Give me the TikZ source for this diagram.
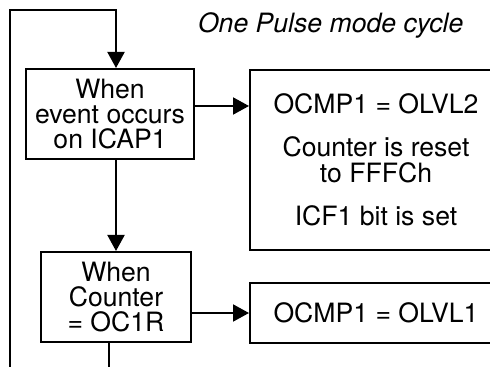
\documentclass[tikz,border=0pt]{standalone}
\usepackage{fontspec}
\setmainfont{TeX Gyre Heros}
\usetikzlibrary{arrows.meta}

\begin{document}
\begin{tikzpicture}[
  x=0.5pt, y=-0.5pt,
  every node/.style={font={\fontsize{13.3pt}{12.7pt}\selectfont}},
  box/.style={draw, line width=1pt, inner sep=0pt, align=center},
  >={Triangle[length=8pt, width=8.5pt]},
  line width=1pt
]
  \clip (0,0) rectangle (490,367);

  \node[anchor=base east, font={\fontsize{13.3pt}{12.7pt}\selectfont\itshape}] (title) at (471,33) {One Pulse mode cycle};

  \node[box, minimum width=84pt, minimum height=45pt] (icap) at (110,114) {When\\event occurs\\on ICAP1};
  \node[box, minimum width=126pt, minimum height=90pt] (reset) at (376,160)
    {OCMP1 = OLVL2\\[9pt]Counter is reset\\to FFFCh\\[9pt]ICF1 bit is set};
  \node[box, minimum width=75pt, minimum height=45pt] (compare) at (116,297) {When\\Counter\\= OC1R};
  \node[box, minimum width=126pt, minimum height=30pt] (set) at (376,313) {OCMP1 = OLVL1};

  \coordinate (loopin) at (10,367);
  \coordinate (looptop) at (10,10);
  \coordinate (loopout) at (109,367);

  % loop back to the start
  \draw[->] (loopin) -- (looptop) -| ([xshift=3pt]icap.north);
  \draw[->] ([xshift=3pt]icap.south) -- (compare.north);
  \draw ([xshift=-3.5pt]compare.south) -- (loopout);

  \draw[->] ([yshift=4pt]icap.east) -- ([yshift=4pt]icap.east -| reset.west);
  \draw[->] (compare.east |- set.west) -- (set.west);
\end{tikzpicture}
\end{document}
